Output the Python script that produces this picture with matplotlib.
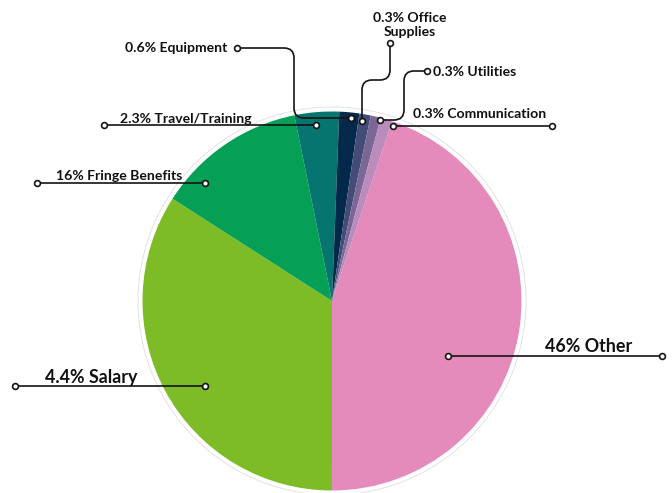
import matplotlib
matplotlib.use("Agg")
import matplotlib.pyplot as plt
from matplotlib.path import Path
from matplotlib.patches import PathPatch, Circle
import numpy as np

# ---- data ----
categories = ["Other", "Salary", "Fringe Benefits", "Travel/Training",
              "Equipment", "Office Supplies", "Utilities", "Communication"]
values = [44.9, 34.1, 12.75, 3.8, 1.7, 0.97, 0.86, 1.0]
label_texts = ["46% Other", "4.4% Salary", "16% Fringe Benefits", "2.3% Travel/Training",
               "0.6% Equipment", "0.3% Office\nSupplies", "0.3% Utilities", "0.3% Communication"]
colors = ["#E48BBB", "#7DBB27", "#05A056", "#06756F",
          "#03294A", "#434C77", "#7B6796", "#BA8BBB"]

W, H = 672, 493
fig = plt.figure(figsize=(W / 100, H / 100), dpi=100)
ax = fig.add_axes([0, 0, 1, 1])

def Y(y):
    return H - y

cx, cy, R = 332, 301, 189.5
ax.pie(values, colors=colors, startangle=71.5, counterclock=False,
       center=(cx, Y(cy)), radius=R, wedgeprops=dict(linewidth=0), frame=True)
ax.add_patch(Circle((cx, Y(cy)), R + 4.5, fill=False, edgecolor="#e2e2e2", linewidth=0.7))

ax.set_xlim(0, W)
ax.set_ylim(0, H)
ax.set_aspect("equal")
ax.axis("off")

LC = "#141414"

def rounded(points, r=10):
    pts = [np.array([p[0], Y(p[1])], float) for p in points]
    verts = [pts[0]]
    codes = [Path.MOVETO]
    for i in range(1, len(pts) - 1):
        p0, p1, p2 = pts[i - 1], pts[i], pts[i + 1]
        d1 = (p0 - p1) / np.linalg.norm(p0 - p1)
        d2 = (p2 - p1) / np.linalg.norm(p2 - p1)
        a = p1 + d1 * r
        b = p1 + d2 * r
        verts += [a, p1, b]
        codes += [Path.LINETO, Path.CURVE3, Path.CURVE3]
    verts.append(pts[-1])
    codes.append(Path.LINETO)
    ax.add_patch(PathPatch(Path(verts, codes), fill=False, edgecolor=LC, linewidth=1.2))
    for p in (pts[0], pts[-1]):
        ax.plot(p[0], p[1], "o", ms=4.2, mfc="white", mec=LC, mew=1.2, zorder=5)

leaders = [
    [(448, 356), (662, 356)],
    [(15, 386), (205, 386)],
    [(37, 183), (205, 183)],
    [(104, 125), (316, 125)],
    [(237, 48), (294, 48), (294, 118), (351, 118)],
    [(390, 43), (390, 80), (362, 80), (362, 121)],
    [(427, 71), (404, 71), (404, 120), (380, 120)],
    [(393, 126), (552, 126)],
]
for pts in leaders:
    rounded(pts)

FONT = ["Lato", "DejaVu Sans"]
big, small = 12.9, 10.1
# (x, baseline y, ha, size)
text_pos = [
    (632, 351.5, "right", big),
    (45, 383, "left", big),
    (56, 180, "left", small),
    (120, 123, "left", small),
    (125, 52.5, "left", small),
    (410, 36.5, "center", small),
    (433, 76, "left", small),
    (413, 118, "left", small),
]
for txt, (x, y, ha, s) in zip(label_texts, text_pos):
    ax.text(x, Y(y), txt, ha=ha, va="baseline", fontsize=s, family=FONT,
            fontweight="bold", color="#111111", linespacing=1.25,
            multialignment="center")

fig.savefig("out.png", dpi=100)
